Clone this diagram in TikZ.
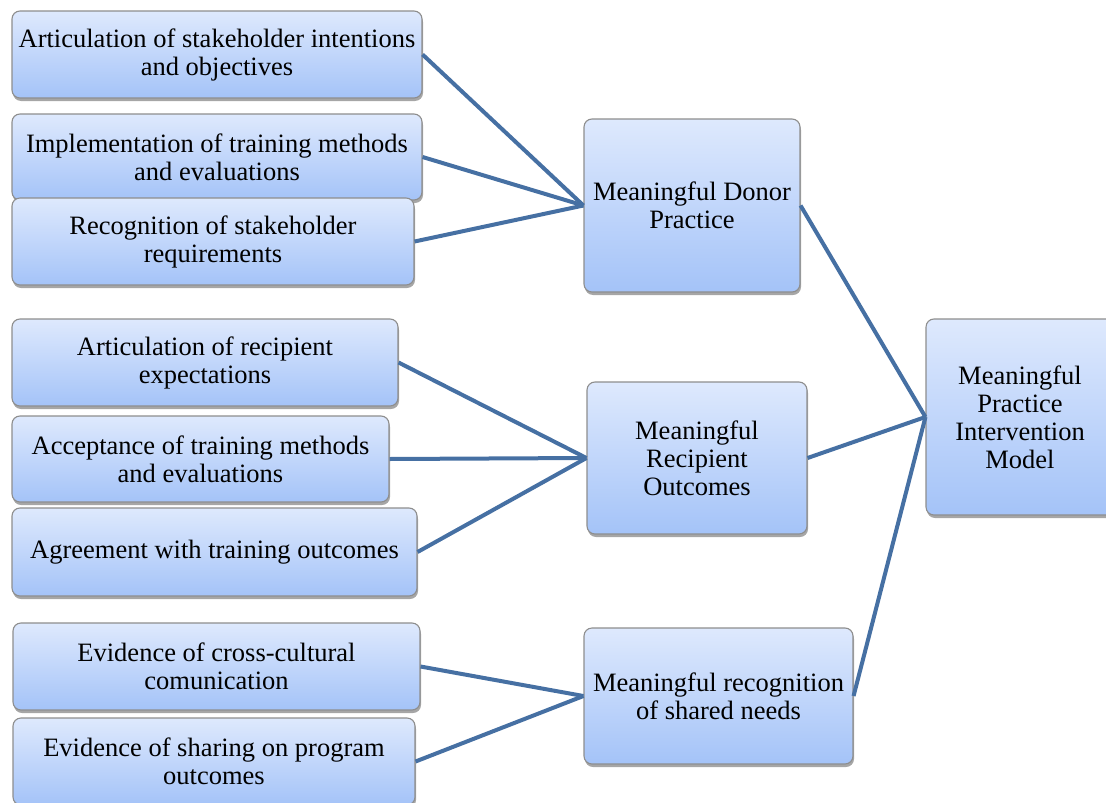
\documentclass[tikz,border=0pt]{standalone}
\usepackage{fontspec}
\setmainfont{Liberation Serif}
\usetikzlibrary{shadows}
\definecolor{boxtop}{HTML}{DEE9FD}
\definecolor{boxbottom}{HTML}{A4C3F8}
\definecolor{boxline}{HTML}{8E8E8E}
\definecolor{linkblue}{HTML}{4670A3}
\tikzset{
	itembox/.style={draw=boxline, line width=1.1pt, rounded corners=8pt,
		top color=boxtop, bottom color=boxbottom, align=center, inner sep=0pt,
		font=\fontsize{26.5}{28}\selectfont,
		drop shadow={shadow xshift=1pt, shadow yshift=-3pt, opacity=0.35, fill=black}},
	link/.style={draw=linkblue, line width=4pt}
}
\begin{document}
\begin{tikzpicture}[x=1pt, y=-1pt]
	\useasboundingbox (0,0) rectangle (1106,803);
	
	% linke Kaesten
	\node[itembox, minimum width=410pt, minimum height=87pt] (l1) at (217,54.5) {Articulation of stakeholder intentions\\and objectives};
	\node[itembox, minimum width=410pt, minimum height=86pt] (l2) at (217,157) {Implementation of training methods\\and evaluations};
	\node[itembox, minimum width=402pt, minimum height=87pt] (l3) at (213,241.5) {Recognition of stakeholder\\requirements};
	\node[itembox, minimum width=386pt, minimum height=87pt] (l4) at (205,362.5) {Articulation of recipient\\expectations};
	\node[itembox, minimum width=377pt, minimum height=86pt] (l5) at (200.5,459) {Acceptance of training methods\\and evaluations};
	\node[itembox, minimum width=405pt, minimum height=88pt] (l6) at (214.5,552) {Agreement with training outcomes};
	\node[itembox, minimum width=407pt, minimum height=87pt] (l7) at (216.5,666.5) {Evidence of cross-cultural\\comunication};
	\node[itembox, minimum width=402pt, minimum height=87pt] (l8) at (214,761.5) {Evidence of sharing on program\\outcomes};
	
	% mittlere Kaesten
	\node[itembox, minimum width=216pt, minimum height=173pt] (donor) at (692,205.5) {Meaningful Donor\\Practice};
	\node[itembox, minimum width=220pt, minimum height=152pt] (recipient) at (697,458) {Meaningful\\Recipient\\Outcomes};
	\node[itembox, minimum width=269pt, minimum height=136pt] (shared) at (718.5,696) {Meaningful recognition\\of shared needs};
	
	% rechter Kasten
	\node[itembox, minimum width=188pt, minimum height=196pt] (model) at (1020,417) {Meaningful\\Practice\\Intervention\\Model};
	
	% Verbindungen
	\foreach \src/\dst in {l1/donor, l2/donor, l3/donor, l4/recipient, l5/recipient, l6/recipient, l7/shared, l8/shared} {
		\draw[link] (\src.east) -- (\dst.west);
	}
	\foreach \src in {donor, recipient, shared} {
		\draw[link] (\src.east) -- (model.west);
	}
\end{tikzpicture}
\end{document}
